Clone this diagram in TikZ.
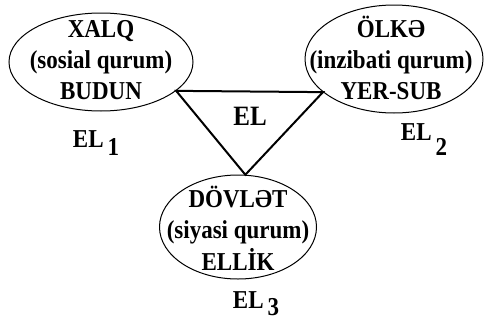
\documentclass[tikz,border=0pt]{standalone}
\usepackage{fontspec}
\setmainfont{Liberation Serif}
\usetikzlibrary{shapes.geometric}

\tikzset{
  qurum/.style={ellipse,draw,line width=1pt,inner sep=0pt},
  qurumtext/.style={align=center,inner sep=0pt,yscale=1.12,transform shape,
    font=\fontsize{23}{28}\selectfont\bfseries},
  ellabel/.style={anchor=base,inner sep=0pt,yscale=1.12,transform shape,
    font=\fontsize{23}{26}\selectfont\bfseries}
}

\begin{document}
\begin{tikzpicture}[x=1pt,y=-1pt]
  \useasboundingbox (0,0) rectangle (484,324);
  % ellipses
  \node[qurum,minimum width=184pt,minimum height=98pt] (xalq) at (101,62) {};
  \node[qurum,minimum width=178pt,minimum height=108pt] (olke) at (394,59) {};
  \node[qurum,minimum width=157pt,minimum height=104pt] (dovlet) at (238,227) {};
  \node[qurumtext] (xalq-text) at (101,60) {XALQ\\(sosial qurum)\\BUDUN};
  \node[qurumtext] (olke-text) at (391,58) {ÖLKƏ\\(inzibati qurum)\\YER-SUB};
  \node[qurumtext] (dovlet-text) at (238,228) {DÖVLƏT\\(siyasi qurum)\\ELLİK};
  % triangle
  \draw[line width=2pt,line join=miter] (xalq.-21) -- (olke.-155) -- (dovlet.82) -- cycle;
  \node[ellabel,font=\fontsize{25}{28}\selectfont\bfseries] (el) at (250,125) {EL};
  % labels
  \node[ellabel] (el1) at (96,147) {EL\,\raisebox{-8pt}{1}};
  \node[ellabel] (el2) at (424,140) {EL\,\raisebox{-14pt}{2}};
  \node[ellabel] (el3) at (256,308) {EL\,\raisebox{-7pt}{3}};
\end{tikzpicture}
\end{document}
